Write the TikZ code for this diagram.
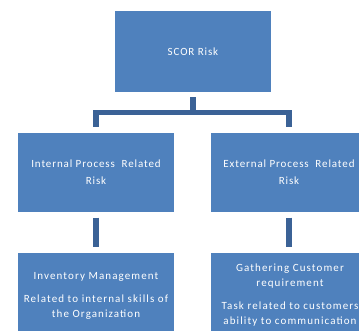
\documentclass[tikz,border=0pt]{standalone}
\usepackage{fontspec}
\setmainfont{Carlito}
\newfontfamily\spaced[LetterSpace=8]{Carlito}
\newfontfamily\spacedb[LetterSpace=10]{Carlito}
\definecolor{boxblue}{HTML}{4F81BD}
\definecolor{connblue}{HTML}{3B6296}
\begin{document}
\begin{tikzpicture}[x=1pt,y=-1pt,
  box/.style={draw=none,fill=boxblue,minimum width=156pt,inner sep=0pt,
    text=white,align=center,font=\spaced\fontsize{11}{17}\selectfont},
  btext/.style={text=white,align=center,inner sep=0pt,anchor=north,
    font=\spacedb\fontsize{11}{15}\selectfont},
  conn/.style={draw=connblue,line width=5.5pt,shorten <=5.5pt,shorten >=6pt}]
\useasboundingbox (0,0) rectangle (359,331);
\clip (0,0) rectangle (359,331);
\fill[white] (0,0) rectangle (359,331);
\node[box,minimum height=80.7pt] (top) at (193,51.35) {SCOR Risk};
\node[box,minimum height=79pt] (ml) at (96,172.5) {Internal Process\ \ Related\\Risk};
\node[box,minimum height=79pt] (mr) at (289,172.5) {External Process\ \ Related\\Risk};
\node[box,minimum height=87pt] (bl) at (96,296.5) {};
\node[box,minimum height=87pt] (br) at (289,296.5) {};
\node[btext] (blt) at (96,272.5) {Inventory Management\\[8pt]Related to internal skills of\\the Organization};
\node[btext] (brt) at (290,263.5) {Gathering Customer\\requirement\\[8pt]Task related to customers\\ability to communication};
\draw[conn] (top.south) -- ++(0,20.5) -| (ml.north);
\draw[conn] (top.south) -- ++(0,20.5) -| (mr.north);
\draw[conn] (ml.south) -- (bl.north);
\draw[conn] (mr.south) -- (br.north);
\end{tikzpicture}
\end{document}
